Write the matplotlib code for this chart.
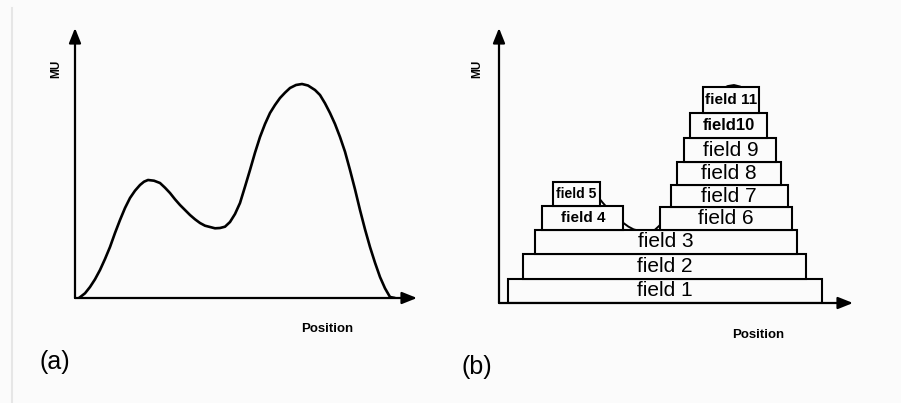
import matplotlib.pyplot as plt
from matplotlib.lines import Line2D
from matplotlib.patches import Rectangle

# ──────────────────────────────────────────────
# Data — MU profile and its decomposition into fields
# ──────────────────────────────────────────────

# MU profile along the position axis (arbitrary units)
profile_pos = [4, 10, 15, 20, 25, 30, 35, 40, 45, 50,
               55, 60, 65, 69, 73, 79, 85, 90, 95, 100,
               105, 110, 115, 120, 125, 130, 135, 140, 145, 150,
               155, 160, 165, 170, 175, 180, 185, 190, 195, 200,
               205, 210, 215, 221, 227, 233, 240, 245, 250, 255,
               260, 265, 270, 275, 280, 285, 290, 295, 300, 305,
               310, 315, 320]
profile_mu = [0, 4.7, 11, 18.7, 28, 39, 51, 65, 78, 90,
              100, 107.3, 113, 116.3, 118, 117.3, 115, 110.3, 105, 98.7,
              93, 88, 83, 78.7, 75, 72.3, 71, 69.7, 70, 71.3,
              76, 84, 95, 111.3, 128, 145.3, 161, 174, 185, 193,
              200, 205.3, 210, 213, 214, 212.5, 208, 203, 194.7, 185,
              174, 161, 146.3, 128, 108.7, 88, 68.7, 51, 35.3, 21,
              9.7, 1, 0]

# fields: left / right edge (position) and MU level at base / top
field_names = ["field 1", "field 2", "field 3", "field 4", "field 5",
               "field 6", "field 7", "field 8", "field 9", "field10", "field 11"]
field_left = [9, 23, 35, 42, 52, 156, 166, 172, 179, 185, 197]
field_right = [312, 297, 288, 120, 98, 283, 279, 272, 268, 259, 251]
field_base = [0, 24, 48, 72, 95, 72, 94, 116, 138, 162, 187]
field_top = [24, 48, 72, 95, 119, 94, 116, 138, 162, 187, 212]

# label font size / weight per field
label_sizes = [15, 15, 15, 11, 10, 15, 15, 15, 15, 12, 11]
label_weights = ["normal"] * 3 + ["bold"] * 2 + ["normal"] * 4 + ["bold"] * 2

POS_MAX, MU_MAX = 342, 270
W, H = 901, 403
BG = "#fbfbfb"


def px_axes(fig, x0, y0, x1, y1):
    """Axes whose data box spans the given pixel corners (origin, arrow tips)."""
    ax = fig.add_axes([x0 / W, 1 - y0 / H, (x1 - x0) / W, (y0 - y1) / H])
    ax.set_xlim(0, POS_MAX)
    ax.set_ylim(0, MU_MAX)
    ax.axis("off")
    ax.patch.set_alpha(0)
    return ax


def draw_axes_arrows(ax):
    style = "-|>,head_length=0.75,head_width=0.3"
    for tip in [(POS_MAX, 0), (0, MU_MAX)]:
        ax.annotate("", xy=tip, xytext=(0, 0),
                    arrowprops=dict(arrowstyle=style, lw=1.6, color="black",
                                    mutation_scale=12, shrinkA=0, shrinkB=0),
                    annotation_clip=False, zorder=5)


def fig_text(x, y, s, **kw):
    fig.text(x / W, 1 - y / H, s, ha="center", va="center", **kw)


plt.rcParams["font.family"] = ["Liberation Sans", "DejaVu Sans"]
fig = plt.figure(figsize=(W / 100, H / 100), dpi=100, facecolor=BG)
fig.add_artist(Line2D([11.5 / W] * 2, [0, 1 - 8 / H], color="#e6e6e6", lw=1.5))

# (a) continuous profile
ax_a = px_axes(fig, 75, 298, 417, 28)
ax_a.plot(profile_pos, profile_mu, color="black", lw=1.9,
          solid_joinstyle="round", solid_capstyle="round")
draw_axes_arrows(ax_a)
fig_text(56, 69, "MU", fontsize=8.5, fontweight="bold", rotation=90)
fig_text(327, 329, "Position", fontsize=9.5, fontweight="bold")
fig_text(55, 362, "(a)", fontsize=18)

# (b) stacked fields approximating the same profile
ax_b = px_axes(fig, 499, 303, 853, 28)

# the profile only peeks out around the low-MU dip and the top field
peek_regions = [
    (field_left[3], field_top[2], field_left[5] - field_left[3], MU_MAX - field_top[2]),
    (field_left[10], field_top[9], field_right[10] - field_left[10], MU_MAX - field_top[9]),
]
for x, y, w, h in peek_regions:
    clip = Rectangle((x, y), w, h, transform=ax_b.transData)
    line, = ax_b.plot(profile_pos, profile_mu, color="black", lw=1.4, zorder=1)
    line.set_clip_path(clip)

for name, l, r, b, t, fs, fw in zip(field_names, field_left, field_right,
                                    field_base, field_top, label_sizes, label_weights):
    ax_b.add_patch(Rectangle((l, b), r - l, t - b, facecolor=BG,
                             edgecolor="black", lw=1.5, zorder=2))
    ax_b.text((l + r) / 2, (b + t) / 2, name, ha="center", va="center",
              fontsize=fs, fontweight=fw, zorder=3)
draw_axes_arrows(ax_b)
fig_text(477, 69, "MU", fontsize=8.5, fontweight="bold", rotation=90)
fig_text(758, 335, "Position", fontsize=9.5, fontweight="bold")
fig_text(477, 367, "(b)", fontsize=18)

fig.savefig("out.png", dpi=100, facecolor=BG)
